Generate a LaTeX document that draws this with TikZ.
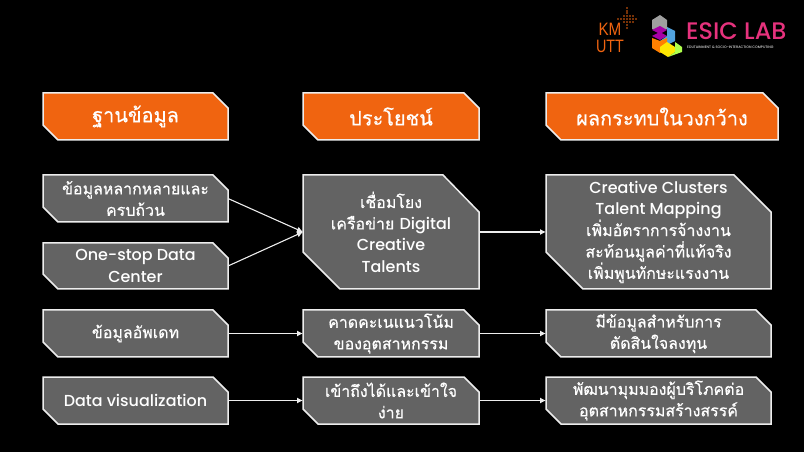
\documentclass[tikz,border=0pt]{standalone}
\usepackage{fontspec}
\newfontfamily\thaifont[Script=Thai,FakeBold=0.5]{Loma}
\newfontfamily\latinfont{Poppins Medium}
\newfontfamily\logofont{Liberation Sans}
\definecolor{boxgray}{HTML}{636363}
\definecolor{headorange}{HTML}{F06410}
\definecolor{linewhite}{HTML}{EDEDED}
\definecolor{esicpink}{HTML}{E6327D}
\usetikzlibrary{arrows.meta}
\tikzset{
  x=1bp,y=-1bp,
  shapebox/.style={draw=linewhite,line width=1.5bp,fill=boxgray},
  headbox/.style={draw=linewhite,line width=1.5bp,fill=headorange},
  label/.style={text=white,align=center,inner sep=0pt,font=\thaifont\fontsize{16}{21.5}\selectfont},
  headlabel/.style={text=white,align=center,inner sep=0pt,font=\thaifont\fontsize{20}{22}\selectfont},
  link/.style={draw=linewhite,line width=1.1bp,-{Latex[length=6bp,width=6bp]}},
}
\newcommand{\snipbox}[9]{%
  \path[#2] (#3,#4) -- ({#5-#7},#4) -- (#5,{#4+#8}) -- (#5,#6) -- ({#3+#9},#6) -- (#3,{#6-#8}) -- cycle;
  \coordinate (#1) at ({(#3+#5)/2},{(#4+#6)/2});
  \coordinate (#1-w) at (#3,{(#4+#6)/2});
  \coordinate (#1-e) at (#5,{(#4+#6)/2});
}
\begin{document}\begin{tikzpicture}
\useasboundingbox[fill=black] (0,0) rectangle (804,452);
% headers
\snipbox{h1}{headbox}{43}{93}{228}{140}{15}{15}{15}
\snipbox{h2}{headbox}{303}{93}{479}{140}{15}{15}{15}
\snipbox{h3}{headbox}{546}{93}{778}{140}{15}{15}{15}
\node[headlabel] (th1) at (h1) {ฐานข้อมูล};
\node[headlabel] (th2) at (h2) {ประโยชน์};
\node[headlabel] (th3) at (h3) {ผลกระทบในวงกว้าง};
% left
\snipbox{a1}{shapebox}{43}{175}{228}{222}{15}{15}{15}
\snipbox{a2}{shapebox}{43}{243}{228}{289}{15}{15}{15}
\snipbox{a3}{shapebox}{43}{310}{228}{357}{15}{15}{15}
\snipbox{a4}{shapebox}{43}{377}{228}{424}{15}{15}{15}
% centre
\snipbox{b1}{shapebox}{303}{175}{479}{289}{36}{37}{37}
\snipbox{b2}{shapebox}{303}{310}{479}{357}{15}{15}{15}
\snipbox{b3}{shapebox}{303}{377}{479}{424}{15}{15}{15}
% right
\snipbox{c1}{shapebox}{546}{175}{771}{289}{37}{37}{37}
\snipbox{c2}{shapebox}{546}{310}{771}{357}{15}{15}{15}
\snipbox{c3}{shapebox}{546}{377}{771}{424}{15}{15}{15}
\node[label] (ta1) at (a1) {ข้อมูลหลากหลายและ\\ครบถ้วน};
\node[label] (ta2) at (a2) {{\latinfont One-stop Data}\\{\latinfont Center}};
\node[label] (ta3) at (a3) {ข้อมูลอัพเดท};
\node[label] (ta4) at (a4) {\latinfont Data visualization};
\node[label] (tb1) at (b1) {เชื่อมโยง\\เครือข่าย {\latinfont Digital}\\{\latinfont Creative}\\{\latinfont Talents}};
\node[label] (tb2) at (b2) {คาดคะเนแนวโน้ม\\ของอุตสาหกรรม};
\node[label] (tb3) at (b3) {เข้าถึงได้และเข้าใจ\\ง่าย};
\node[label] (tc1) at (c1) {{\latinfont Creative Clusters}\\{\latinfont Talent Mapping}\\เพิ่มอัตราการจ้างงาน\\สะท้อนมูลค่าที่แท้จริง\\เพิ่มพูนทักษะแรงงาน};
\node[label] (tc2) at (c2) {มีข้อมูลสำหรับการ\\ตัดสินใจลงทุน};
\node[label] (tc3) at (c3) {พัฒนามุมมองผู้บริโภคต่อ\\อุตสาหกรรมสร้างสรรค์};
% connectors
\draw[link] (a1-e) -- (b1-w);
\draw[link] (a2-e) -- (b1-w);
\draw[link] (a3-e) -- (b2-w);
\draw[link] (a4-e) -- (b3-w);
\draw[link] (b1-e) -- (c1-w);
\draw[link] (b2-e) -- (c2-w);
\draw[link] (b3-e) -- (c3-w);
% KMUTT logo
\node[text=headorange,inner sep=0pt,xscale=.85,font=\logofont\fontsize{18}{18}\selectfont] (kmtxt) at (610,29.5) {KM};
\node[text=headorange,inner sep=0pt,xscale=.8,font=\logofont\fontsize{18}{18}\selectfont] (uttxt) at (610,46.5) {UTT};
\foreach \px in {618,621,624,627,630,633,636}{\fill[headorange] (\px,19) circle (.8);}
\foreach \px in {624,627,630,633}{\fill[headorange] (\px,16) circle (.8);\fill[headorange] (\px,22) circle (.8);}
\foreach \py in {8,11,13,25,28}{\fill[headorange] (627,\py) circle (.8);}
% ESIC hex logo
\fill[gray!75] (652,20) -- (660,15) -- (667,20) -- (667,29) -- (660,33) -- (652,29) -- cycle;
\fill[violet!70!magenta] (652,30) -- (660,26) -- (667,30) -- (660,34) -- cycle;
\fill[violet!70!magenta] (652,36) -- (660,32) -- (667,36) -- (660,40) -- cycle;
\fill[cyan!70!blue!70] (667,27) -- (675,31) -- (675,41) -- (667,45) -- (660,41) -- (667,36) -- cycle;
\fill[orange] (652,38) -- (660,41) -- (667,38) -- (667,47) -- (660,53) -- (652,48) -- cycle;
\fill[yellow!90!orange] (660,47) -- (667,42) -- (675,47) -- (675,52) -- (668,57) -- (660,52) -- cycle;
\fill[green!45!yellow!70] (675,42) -- (682,47) -- (682,52) -- (668,57) -- (675,52) -- cycle;
\node[text=esicpink,inner sep=0pt,anchor=west,font=\latinfont\fontsize{24}{24}\selectfont] (esic) at (686,31.5) {ESIC LAB};
\node[text=white!85!black,inner sep=0pt,anchor=west,font=\latinfont\fontsize{3.5}{4}\selectfont] (esict) at (687,47.5) {EDUTAINMENT \& SOCIO-INTERACTION COMPUTING};
\end{tikzpicture}\end{document}
